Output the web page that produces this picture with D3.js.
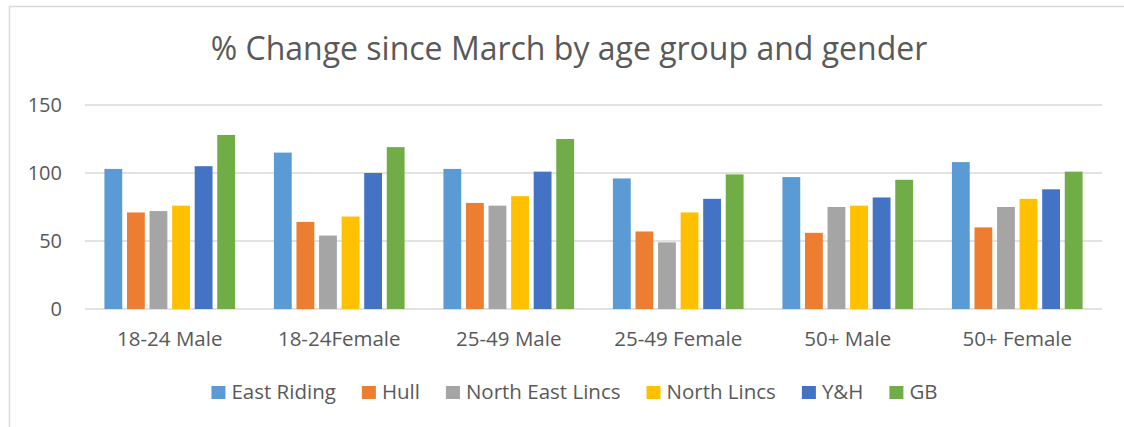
<!DOCTYPE html>
<html>
<head>
<meta charset="utf-8">
<script src="https://cdnjs.cloudflare.com/ajax/libs/d3/7.8.5/d3.min.js"></script>
<style>
  body { margin: 0; background: #fff; }
  svg text { font-family: "Open Sans", "Noto Sans", sans-serif; fill: #595959; }
</style>
</head>
<body>
<svg width="1124" height="427"></svg>
<script>
// categories and series
var groups = ["18-24 Male", "18-24Female", "25-49 Male", "25-49 Female", "50+ Male", "50+ Female"];
var seriesNames = ["East Riding", "Hull", "North East Lincs", "North Lincs", "Y&H", "GB"];
var colors = ["#5B9BD5", "#ED7D31", "#A5A5A5", "#FFC000", "#4472C4", "#70AD47"];

// values per series, one per group
var eastRiding = [103, 115, 103, 96, 97, 108];
var hull = [71, 64, 78, 57, 56, 60];
var northEastLincs = [72, 54, 76, 49, 75, 75];
var northLincs = [76, 68, 83, 71, 76, 81];
var yh = [105, 100, 101, 81, 82, 88];
var gb = [128, 119, 125, 99, 95, 101];
var yTicks = [0, 50, 100, 150];

var seriesValues = [eastRiding, hull, northEastLincs, northLincs, yh, gb];

var svg = d3.select("svg");

// chart border
svg.append("rect")
  .attr("x", 9.5).attr("y", 6.5)
  .attr("width", 1300).attr("height", 600)
  .attr("fill", "none")
  .attr("stroke", "#d9d9d9")
  .attr("stroke-width", 1.5);

var margin = { left: 85, right: 22, top: 105, bottom: 118 };
var width = 1124 - margin.left - margin.right;
var height = 427 - margin.top - margin.bottom;

var g = svg.append("g").attr("transform", "translate(" + margin.left + "," + margin.top + ")");

var x0 = d3.scaleBand().domain(groups).range([0, width]).padding(0);
var x1 = d3.scaleBand().domain(seriesNames).range([0, x0.bandwidth()])
  .paddingInner(0.21).paddingOuter(0.86);
var y = d3.scaleLinear().domain([0, 150]).range([height, 0]);

// gridlines
g.selectAll(".grid")
  .data(yTicks)
  .enter()
  .append("line")
  .attr("class", "grid")
  .attr("x1", 0).attr("x2", width)
  .attr("y1", function (d) { return y(d); })
  .attr("y2", function (d) { return y(d); })
  .attr("stroke", "#d9d9d9")
  .attr("stroke-width", 1.5);

// y tick labels
g.selectAll(".ytick")
  .data(yTicks)
  .enter()
  .append("text")
  .attr("x", -23)
  .attr("y", function (d) { return y(d); })
  .attr("dy", "0.36em")
  .attr("text-anchor", "end")
  .style("font-size", "20px")
  .text(function (d) { return d; });

// bars
var groupSel = g.selectAll(".group")
  .data(groups)
  .enter()
  .append("g")
  .attr("transform", function (d) { return "translate(" + x0(d) + ",0)"; });

groupSel.selectAll("rect")
  .data(function (d, i) {
    return seriesNames.map(function (s, j) { return { name: s, value: seriesValues[j][i], idx: j }; });
  })
  .enter()
  .append("rect")
  .attr("x", function (d) { return x1(d.name); })
  .attr("y", function (d) { return y(d.value); })
  .attr("width", x1.bandwidth())
  .attr("height", function (d) { return height - y(d.value); })
  .attr("fill", function (d) { return colors[d.idx]; });

// category labels
g.selectAll(".xlabel")
  .data(groups)
  .enter()
  .append("text")
  .attr("x", function (d) { return x0(d) + x0.bandwidth() / 2; })
  .attr("y", height + 37)
  .attr("text-anchor", "middle")
  .style("font-size", "20.5px")
  .text(function (d) { return d; });

// title
svg.append("text")
  .attr("x", 569)
  .attr("y", 60)
  .attr("text-anchor", "middle")
  .style("font-size", "32px")
  .text("% Change since March by age group and gender");

// legend
var legend = svg.append("g");
var items = legend.selectAll(".item")
  .data(seriesNames)
  .enter()
  .append("g");
items.append("rect")
  .attr("y", 386)
  .attr("width", 14).attr("height", 13)
  .attr("fill", function (d, i) { return colors[i]; });
items.append("text")
  .attr("x", 20)
  .attr("y", 399)
  .style("font-size", "20.5px")
  .text(function (d) { return d; });

var gap = 26;
var pos = 0;
items.each(function () {
  var w = d3.select(this).select("text").node().getComputedTextLength();
  d3.select(this).attr("transform", "translate(" + pos + ",0)");
  pos += 20 + w + gap;
});
var total = pos - gap;
legend.attr("transform", "translate(" + (574.5 - total / 2) + ",0)");
</script>
</body>
</html>
